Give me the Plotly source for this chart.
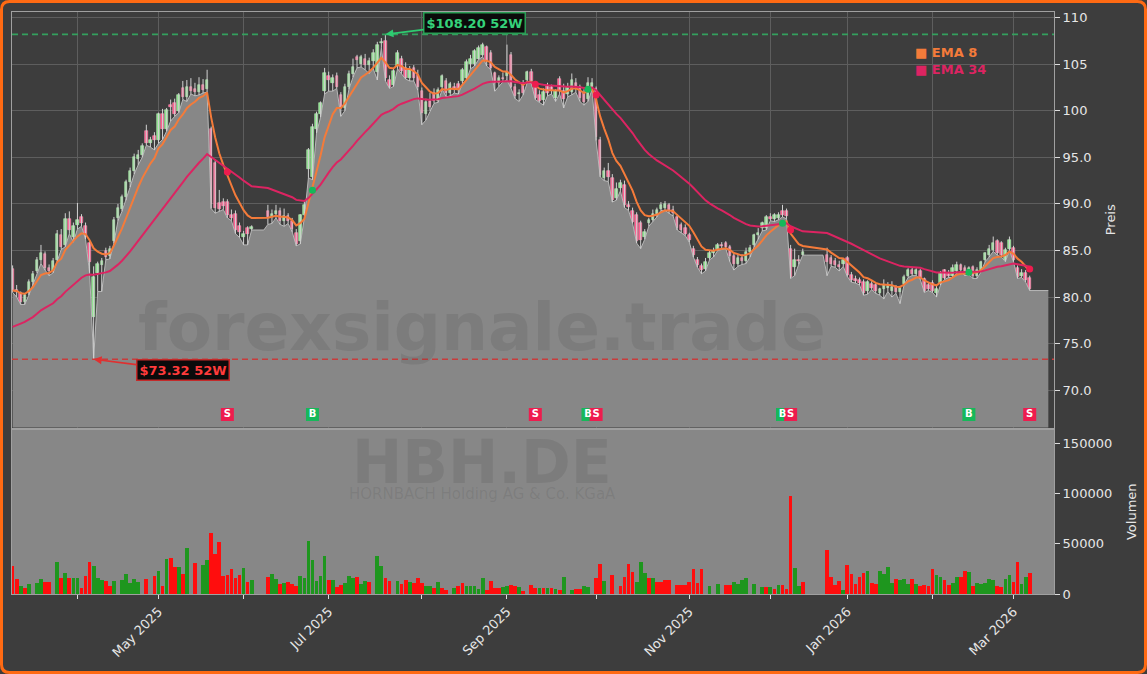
import pandas as pd
import numpy as np
import plotly.graph_objects as go
from plotly.subplots import make_subplots

# ---------------- data ----------------
START, END = "2025-03-10", "2026-03-06"
HOLIDAYS = ["2025-04-18", "2025-04-21", "2025-05-01", "2025-12-24",
            "2025-12-25", "2025-12-26", "2025-12-31", "2026-01-01"]
N_ = None

open_ = [83.0, 80.8, 80.4, 79.5, 80.4, 81.6, 82.8, 84.0, 84.6, 83.1,
         82.8, 84.0, 86.7, 85.6, 88.4, 86.4, 87.7, 88.6, 87.6, 85.8,
         77.9, 82.6, 83.4, 84.9, 84.4, 86.0, 88.5, 89.5, 90.7, 92.3,
         93.5, 94.8, 95.3, 97.8, 96.5, 97.3, 96.9, 99.6, 98.0, 100.6,
         100.8, 100.0, 102.4, 101.5, 102.6, 102.3, 102.0, 102.8, 102.3, 98.0,
         94.4, 90.1, 90.2, 90.2, 88.8, 88.9, 87.6, 86.5, 87.4, 87.3,
         N_, N_, N_, 89.2, 88.6, 88.9, 89.2, 88.2, 88.7, 88.2,
         86.9, 86.0, 88.8, 93.8, 92.9, 98.0, 99.6, 102.1, 103.7, 103.0,
         103.7, 101.7, 100.3, 102.6, 103.9, 105.8, 105.0, 105.6, 104.9, 105.3,
         104.2, 107.3, 107.5, 103.3, 102.8, 104.8, 105.6, 104.6, 103.5, 104.6,
         103.8, 102.1, 99.6, 101.0, 101.9, 101.1, 102.6, 103.2, 101.9, 102.6,
         102.9, 103.2, 103.5, 105.0, 105.0, 105.6, 106.0, 106.8, 106.2, 104.0,
         103.0, 103.5, 103.7, 106.0, 102.6, 101.8, 103.0, 103.3, 104.2, 102.8,
         101.7, 101.2, 102.7, 102.5, 101.4, 103.4, 102.1, 101.8, 102.0, 103.0,
         102.6, 101.9, 101.3, 102.6, 102.3, 96.9, 92.8, 93.5, 92.8, 90.6,
         91.7, 92.0, 89.9, 89.2, 88.8, 87.9, 86.5, 87.9, 88.3, 88.9,
         89.5, 89.6, 89.9, 89.3, 88.6, 87.7, 87.4, 86.7, 85.2, 84.0,
         83.3, 83.0, 84.2, 84.7, 85.2, 85.6, 85.8, 85.4, 84.4, 83.6,
         84.2, 83.9, 84.8, 85.6, 86.7, 87.4, 87.4, 88.6, 88.4, 88.5,
         89.2, 89.2, 85.2, 83.2, 84.0, 84.5, N_, N_, N_, N_,
         N_, 84.5, 84.2, 83.9, 83.4, 83.5, 84.2, 82.4, 81.9, 81.8,
         81.6, 80.6, 81.4, 81.3, 80.4, 80.9, 81.0, 80.6, 81.1, 80.5,
         81.4, 82.3, 82.9, 82.5, 82.8, 81.9, 81.3, 81.5, 80.4, 81.5,
         82.9, 82.6, 82.3, 82.8, 83.4, 83.1, 82.6, 83.2, 82.3, 82.9,
         84.0, 84.5, 85.1, 86.0, 85.8, 84.0, 85.2, 85.3, 83.1, 82.3,
         82.6, 82.0]

high = [83.4, 81.3, 80.6, 80.4, 81.9, 82.8, 84.3, 85.6, 84.9, 83.5,
        84.2, 87.2, 87.3, 89.0, 89.2, 88.0, 90.1, 88.9, 88.0, 86.0,
        83.3, 83.8, 84.2, 85.3, 85.5, 88.6, 90.0, 91.0, 92.6, 93.9,
        95.4, 95.8, 96.5, 98.5, 97.2, 97.7, 99.8, 100.2, 100.3, 101.2,
        101.3, 101.9, 103.2, 103.3, 103.5, 103.0, 103.6, 103.4, 104.4, 98.3,
        94.8, 91.5, 90.6, 90.5, 89.4, 89.3, 88.0, 87.1, 87.6, 87.7,
        N_, N_, N_, 89.9, 89.4, 89.9, 89.6, 89.5, 89.0, 88.5,
        87.3, 88.9, 90.3, 96.0, 98.6, 99.9, 101.0, 104.6, 104.2, 103.9,
        104.1, 102.0, 102.9, 104.3, 105.6, 106.0, 106.0, 106.1, 105.7, 106.6,
        107.4, 107.8, 108.2, 103.8, 104.6, 106.5, 105.9, 105.2, 104.8, 104.9,
        104.4, 102.5, 101.3, 101.9, 102.4, 102.5, 103.9, 103.5, 103.1, 103.0,
        103.2, 104.6, 105.5, 106.0, 106.6, 107.0, 107.3, 107.0, 106.5, 104.2,
        103.8, 104.1, 107.1, 106.3, 102.9, 102.3, 103.3, 104.3, 104.5, 103.2,
        102.2, 102.4, 103.0, 102.8, 102.3, 103.7, 102.9, 103.0, 104.0, 103.5,
        102.8, 102.3, 103.6, 103.5, 102.6, 97.2, 93.9, 94.4, 93.2, 92.3,
        92.6, 92.5, 90.3, 89.6, 89.1, 88.2, 87.3, 88.5, 89.4, 89.6,
        90.2, 90.3, 90.1, 89.8, 88.9, 88.0, 87.8, 86.9, 85.5, 84.3,
        83.6, 84.2, 85.0, 85.3, 85.8, 85.9, 86.0, 85.6, 84.8, 84.6,
        84.6, 85.3, 85.6, 86.8, 87.4, 88.1, 88.8, 89.0, 89.0, 89.1,
        89.9, 89.5, 85.6, 85.2, 84.5, 85.2, N_, N_, N_, N_,
        N_, 85.3, 84.5, 84.2, 83.9, 84.1, 84.4, 82.7, 82.3, 82.1,
        81.9, 81.8, 81.7, 81.5, 81.0, 81.9, 81.6, 81.7, 81.3, 81.2,
        82.4, 83.1, 83.2, 83.1, 83.0, 82.1, 81.6, 81.8, 81.2, 82.8,
        83.0, 82.9, 83.5, 83.8, 83.6, 83.4, 83.3, 83.4, 83.2, 83.9,
        84.8, 85.6, 86.5, 86.2, 86.0, 85.3, 86.5, 85.5, 83.4, 83.0,
        82.9, 82.3]

low = [80.5, 80.0, 79.2, 79.2, 80.2, 81.3, 82.6, 83.6, 82.9, 82.3,
       82.6, 83.8, 85.1, 85.4, 86.8, 85.9, 87.3, 87.6, 86.2, 82.6,
       73.32, 80.6, 80.6, 84.0, 84.1, 85.8, 88.2, 89.2, 90.4, 91.8,
       93.2, 94.2, 95.0, 96.3, 96.1, 95.8, 96.5, 96.9, 97.8, 98.9,
       99.4, 99.8, 101.2, 101.0, 101.8, 101.6, 101.7, 101.9, 102.0, 89.5,
       89.0, 89.2, 89.4, 88.5, 88.2, 86.8, 86.4, 85.6, 85.6, 87.2,
       N_, N_, N_, 87.8, 87.9, 88.5, 87.8, 87.6, 87.9, 87.0,
       85.5, 85.7, 88.5, 92.8, 92.6, 97.6, 99.3, 101.8, 102.1, 102.1,
       102.4, 99.4, 100.0, 102.3, 103.6, 104.6, 104.7, 104.4, 104.0, 104.5,
       103.3, 106.8, 103.2, 102.4, 102.6, 104.5, 104.0, 103.4, 103.2, 103.2,
       102.2, 98.5, 99.0, 100.0, 100.8, 100.9, 102.3, 101.5, 101.6, 101.9,
       101.8, 102.9, 103.3, 104.5, 104.8, 105.5, 105.8, 104.8, 104.4, 102.1,
       102.6, 103.1, 103.3, 102.4, 101.3, 101.0, 101.7, 103.0, 102.9, 101.2,
       100.9, 100.6, 101.6, 101.8, 101.0, 101.8, 100.3, 101.5, 101.7, 102.0,
       101.0, 100.6, 101.0, 102.3, 96.8, 92.9, 92.5, 92.4, 90.2, 90.4,
       91.4, 89.6, 89.3, 87.9, 85.8, 85.2, 86.2, 87.6, 88.1, 88.6,
       89.3, 89.3, 89.0, 88.7, 87.2, 86.9, 86.6, 85.9, 84.3, 83.2,
       82.5, 82.8, 84.0, 84.3, 85.0, 85.1, 85.2, 83.8, 82.9, 83.3,
       83.5, 83.6, 84.3, 85.4, 86.2, 87.1, 87.2, 88.2, 88.1, 88.3,
       88.6, 88.4, 82.0, 82.3, 83.5, 84.5, N_, N_, N_, N_,
       N_, 82.3, 83.3, 83.2, 82.8, 83.3, 82.2, 81.6, 81.5, 81.3,
       80.2, 80.3, 80.8, 80.4, 80.2, 79.8, 80.6, 80.0, 80.4, 79.3,
       81.3, 82.1, 82.3, 82.3, 81.9, 80.5, 80.7, 80.5, 80.0, 81.3,
       81.9, 82.1, 82.1, 82.6, 82.7, 82.3, 82.4, 82.0, 82.0, 82.7,
       83.8, 84.3, 84.9, 84.5, 84.3, 83.8, 85.0, 83.8, 82.0, 82.1,
       81.6, 80.7]

close = [80.8, 80.5, 79.5, 80.2, 81.6, 82.5, 84.0, 84.7, 83.1, 82.8,
         83.9, 86.8, 85.4, 88.4, 87.2, 87.6, 88.3, 88.0, 86.5, 83.8,
         82.2, 83.6, 83.9, 84.3, 85.2, 88.3, 89.6, 90.7, 92.3, 93.5,
         95.0, 95.3, 96.2, 96.5, 96.9, 96.9, 99.7, 98.0, 100.1, 100.4,
         99.6, 101.7, 101.5, 102.6, 102.1, 102.0, 102.8, 102.2, 103.3, 90.0,
         89.6, 89.5, 89.8, 88.8, 88.5, 87.2, 87.0, 86.8, 86.8, 87.5,
         N_, N_, N_, 88.6, 88.9, 89.2, 88.2, 88.7, 88.2, 87.3,
         85.7, 88.8, 89.9, 95.8, 98.3, 99.6, 100.8, 104.0, 103.3, 103.5,
         102.6, 100.3, 102.6, 103.9, 104.7, 105.5, 105.8, 104.9, 105.3, 106.2,
         107.1, 107.4, 103.5, 102.6, 104.3, 106.2, 104.3, 103.5, 104.4, 103.5,
         102.6, 99.8, 100.9, 100.4, 101.1, 102.2, 103.7, 101.9, 102.9, 102.3,
         102.2, 104.4, 105.2, 105.6, 106.4, 106.7, 107.1, 105.3, 104.6, 103.0,
         103.5, 103.4, 104.2, 102.6, 101.6, 101.9, 101.9, 104.2, 103.2, 101.4,
         101.1, 102.0, 101.9, 102.2, 102.1, 102.1, 101.3, 102.6, 103.3, 102.6,
         101.4, 100.9, 103.0, 103.0, 97.2, 93.1, 93.5, 92.9, 90.4, 91.6,
         92.2, 89.9, 89.7, 88.1, 86.0, 86.1, 87.0, 88.3, 88.9, 89.3,
         89.9, 90.0, 89.3, 89.0, 87.4, 87.2, 86.8, 86.1, 84.5, 83.4,
         82.9, 83.8, 84.7, 84.9, 85.6, 85.5, 85.4, 84.4, 83.6, 84.2,
         83.9, 84.8, 85.3, 86.7, 86.9, 87.9, 88.6, 88.4, 88.8, 88.8,
         88.8, 88.7, 82.2, 84.0, 83.9, 84.8, N_, N_, N_, N_,
         N_, 83.8, 83.6, 83.4, 83.2, 84.0, 82.4, 81.8, 81.7, 81.5,
         80.4, 81.6, 81.0, 80.6, 80.9, 81.3, 81.2, 81.1, 80.5, 81.0,
         82.2, 82.9, 82.5, 82.9, 82.1, 80.7, 80.9, 80.6, 80.9, 82.6,
         82.1, 82.3, 83.1, 83.4, 82.9, 82.6, 83.1, 82.3, 82.9, 83.8,
         84.7, 85.2, 85.8, 84.7, 84.5, 85.1, 86.1, 84.0, 82.2, 82.6,
         81.8, 80.9]

volume = [27900, 15400, 8900, 6600, 10800, 0, 11500, 15800, 12200, 12800,
          0, 32500, 16400, 21700, 16400, 16400, 16400, 6600, 18700, 32500,
          28600, 16400, 14800, 13800, 8900, 13500, 0, 14800, 20700, 11500,
          15800, 12800, 0, 15800, 0, 18700, 23700, 8900, 35500, 36500,
          27600, 27600, 20700, 46300, 0, 31600, 0, 29600, 34500, 60800,
          40400, 52300, 18700, 19700, 25600, 16800, 19700, 26600, 12800, 14800,
          0, 0, 0, 17700, 20700, 15800, 10800, 11800, 12800, 10800,
          8900, 18700, 16800, 53200, 34500, 13800, 18700, 38500, 14800, 14800,
          7200, 9900, 11800, 18700, 16800, 17700, 10800, 13800, 12800, 0,
          38500, 28600, 16800, 13800, 0, 13800, 10500, 14800, 12800, 11800,
          16800, 11800, 8900, 8900, 6900, 12800, 6900, 4900, 0, 6900,
          8900, 11800, 8900, 8900, 8900, 5900, 16800, 4900, 13800, 6900,
          6900, 7900, 8900, 9900, 8900, 7900, 3900, 0, 9900, 6900,
          6900, 6900, 6900, 6900, 5900, 4900, 17800, 0, 4900, 5900,
          5900, 8900, 7900, 0, 16800, 30600, 13800, 0, 19700, 0,
          8900, 17700, 30600, 22700, 12800, 32500, 21700, 16800, 16800, 12800,
          12200, 14100, 14800, 0, 9500, 9900, 9900, 12800, 25600, 11800,
          25600, 0, 8200, 0, 10800, 0, 9900, 9500, 12800, 10800,
          14800, 16800, 0, 10800, 0, 7900, 7900, 7900, 5900, 9900,
          9500, 5300, 98000, 26000, 8200, 12200, 0, 0, 0, 0,
          0, 43800, 17100, 9200, 13200, 4300, 29000, 20000, 10200, 17400,
          21000, 23000, 11200, 10200, 23000, 20000, 27000, 11200, 15100, 14100,
          15100, 10200, 15100, 10200, 8200, 9200, 8200, 25000, 19000, 17100,
          14100, 9200, 11200, 17100, 17100, 23000, 22000, 8200, 11200, 10200,
          11200, 15100, 14100, 8200, 7200, 15100, 19000, 12200, 32000, 10200,
          17100, 21000]

volume_dir = ("rrgrg-ggrr" "-grgrggrrr" "gggrrg-ggg" "gg-r-rgrgr" "rgrg-r-ggr"
              "rrrrrrrgrg" "---rggrgrr" "rgggggggrg" "rrgggrggr-" "ggrr-grrgr"
              "rrggrgrr-g" "rrgggggrrr" "rggrrgr-rr" "grgrgrg-gr" "rgg-rrg-r-"
              "rrrrgggrgr" "rrr-rrrrrr" "r-g-g-rrgg" "gg-g-grgrg" "rrrggr----"
              "-rrrrgrrrr" "rgrrggggrg" "ggrgrrrrgg" "rrggrrgrgg" "gggrrggrrg"
              "gr")

EMA8_START, EMA34_START = 80.7, 76.8          # EMA values at the first bar
signal_idx = [53, 74, 129, 142, 144, 190, 192, 236, 251]
signal_type = ["S", "B", "S", "B", "S", "B", "S", "B", "S"]
LABELED_MONTHS = [1, 3, 5, 7, 9, 11]

# ---------------- derived ----------------
n = len(close)
assert all(len(a) == n for a in (open_, high, low, volume)) and len(volume_dir) == n
dates = pd.bdate_range(START, END)
dates = dates[~dates.isin(pd.to_datetime(HOLIDAYS))]
assert len(dates) == n, len(dates)
idx = np.arange(n)

o = pd.Series(open_, dtype=float).values
hh = pd.Series(high, dtype=float).values
ll = pd.Series(low, dtype=float).values
c = pd.Series(close, dtype=float).values

def ema(series, span, seed):
    a = 2.0 / (span + 1)
    out, prev = [], seed
    for i, v in enumerate(series):
        if np.isnan(v):
            out.append(np.nan)
            continue
        prev = seed if i == 0 else a * v + (1 - a) * prev
        out.append(prev)
    return np.array(out)
ema8 = ema(c, 8, EMA8_START)
ema34 = ema(c, 34, EMA34_START)

fill_low = pd.Series(ll).ffill().values
FILL_EXT = 4.6
x_fill = list(idx) + [n - 1 + FILL_EXT]
y_fill = list(fill_low) + [fill_low[-1]]

hi_i = int(np.nanargmax(hh)); hi_val = float(hh[hi_i])
lo_i = int(np.nanargmin(ll)); lo_val = float(ll[lo_i])

month = pd.Series(dates.month)
tick_pos = [i for i in range(1, n) if month[i] != month[i - 1]]
tick_txt = [dates[i].strftime("%b %Y") if dates[i].month in LABELED_MONTHS else "" for i in tick_pos]

valid = ~np.isnan(c)
vi = idx[valid]
wx, wy = [], []
for i in vi:
    wx += [i, i, None]
    wy += [ll[i], hh[i], None]
up = c[valid] >= o[valid]
body_base = np.minimum(o[valid], c[valid])
body_h = np.maximum(np.abs(c[valid] - o[valid]), 0.08)
body_col = np.where(up, "#8de28d", "#ff5a8c")
body_line = np.where(up, "#b9f2b9", "#ff9ab9")

# ---------------- figure ----------------
W, H = 1147, 674
ML, MR, MT, MB = 12, 93, 12, 80
PW, PH = W - ML - MR, H - MT - MB
def xp(px): return (px - ML) / PW
def yp(py): return (H - MB - py) / PH

BG = "#3d3d3d"
FONT = "DejaVu Sans"
TXT = "#e6e6e6"

fig = make_subplots(rows=2, cols=1, shared_xaxes=True)

fig.add_trace(go.Scatter(x=x_fill, y=y_fill, mode="lines", fill="tozeroy",
                         fillcolor="#878787", line=dict(color="#b8b8b8", width=1),
                         hoverinfo="skip", showlegend=False), row=1, col=1)
fig.add_trace(go.Scatter(x=wx, y=wy, mode="lines", line=dict(color="#d2d2d2", width=1),
                         showlegend=False), row=1, col=1)
fig.add_trace(go.Bar(x=vi, y=body_h, base=body_base, width=0.62,
                     marker=dict(color=body_col, line=dict(color=body_line, width=0.6)),
                     showlegend=False), row=1, col=1)

ev = ~np.isnan(ema8)
fig.add_trace(go.Scatter(x=idx[ev], y=ema8[ev], mode="lines",
                         line=dict(color="#f47b3a", width=2), showlegend=False), row=1, col=1)
fig.add_trace(go.Scatter(x=idx[ev], y=ema34[ev], mode="lines",
                         line=dict(color="#dc2462", width=2), showlegend=False), row=1, col=1)

S_COL, B_COL = "#ee1c4e", "#16b85a"
dot_y = [(ema8[i] + ema34[i]) / 2 for i in signal_idx]
dot_c = [S_COL if t == "S" else B_COL for t in signal_type]
fig.add_trace(go.Scatter(x=signal_idx, y=dot_y, mode="markers",
                         marker=dict(size=7, color=dot_c), showlegend=False), row=1, col=1)

MARK_Y = 67.4
order = [k for k in range(len(signal_idx)) if signal_type[k] == "B"] + \
        [k for k in range(len(signal_idx)) if signal_type[k] == "S"]
fig.add_trace(go.Scatter(x=[signal_idx[k] for k in order], y=[MARK_Y] * len(order),
                         mode="markers+text", text=[signal_type[k] for k in order],
                         textposition="middle center",
                         textfont=dict(color="white", size=10, family=FONT, weight="bold"),
                         marker=dict(symbol="square", size=13,
                                     color=[dot_c[k] for k in order]),
                         showlegend=False), row=1, col=1)

vcol = ["#1e961e" if d == "g" else "#ff0d0d" for d in volume_dir]
fig.add_trace(go.Bar(x=idx, y=volume, marker=dict(color=vcol, line=dict(width=0)),
                     width=0.92, showlegend=False), row=2, col=1)

XR = [-0.15, 257.0]
axis_common = dict(showline=True, mirror=True, linecolor="#a0a0a0", linewidth=1,
                   tickfont=dict(family=FONT, size=13, color=TXT), zeroline=False,
                   automargin=False)
fig.update_layout(
    width=W, height=H, margin=dict(l=ML, r=MR, t=MT, b=MB, autoexpand=False),
    paper_bgcolor=BG, plot_bgcolor=BG, font=dict(family=FONT, color=TXT),
    showlegend=False, bargap=0, hovermode=False, barmode="overlay",
    xaxis=dict(domain=[0, 1], range=XR, tickvals=tick_pos, ticktext=[""] * len(tick_pos),
               showgrid=True, gridcolor="#5e5e5e", gridwidth=1, ticks="",
               **axis_common),
    xaxis2=dict(domain=[0, 1], range=XR, tickvals=tick_pos, ticktext=tick_txt, tickangle=-45,
                showgrid=False, ticks="outside", ticklen=4, tickcolor="#dddddd", **axis_common),
    yaxis=dict(domain=[yp(427.5), 1], range=[66.0, 110.6], side="right",
               tickvals=[70, 75, 80, 85, 90, 95, 100, 105, 110],
               ticktext=["70.0", "75.0", "80.0", "85.0", "90.0", "95.0", "100", "105", "110"],
               showgrid=True, gridcolor="#5e5e5e", gridwidth=1, ticks="outside", ticklen=5,
               tickcolor="#dddddd",
               title=dict(text="Preis", font=dict(family=FONT, size=13, color=TXT)),
               **axis_common),
    yaxis2=dict(domain=[0, yp(429.5)], range=[0, 163700], side="right",
                tickvals=[0, 50000, 100000, 150000], ticktext=["0", "50000", "100000", "150000"],
                showgrid=False, ticks="outside", ticklen=5, tickcolor="#dddddd",
                title=dict(text="Volumen", font=dict(family=FONT, size=13, color=TXT)),
                **axis_common),
)

shapes = [
    dict(type="rect", xref="x2 domain", yref="y2 domain", x0=0, x1=1, y0=0, y1=1,
         fillcolor="#878787", line=dict(width=0), layer="below"),
    dict(type="line", xref="x domain", yref="y", x0=0, x1=1, y0=hi_val, y1=hi_val,
         line=dict(color="#34a05e", width=1.6, dash="6px,4px")),
    dict(type="line", xref="x domain", yref="y", x0=0, x1=1, y0=lo_val, y1=lo_val,
         line=dict(color="#c83c3c", width=1.6, dash="6px,4px")),
]
x0p, x1p, y0p, y1p = xp(1.5), xp(W - 1.5), yp(H - 1.5), yp(1.5)
rx, ry = 8 / PW, 8 / PH
path = (f"M {x0p+rx},{y1p} L {x1p-rx},{y1p} Q {x1p},{y1p} {x1p},{y1p-ry} "
        f"L {x1p},{y0p+ry} Q {x1p},{y0p} {x1p-rx},{y0p} L {x0p+rx},{y0p} "
        f"Q {x0p},{y0p} {x0p},{y0p+ry} L {x0p},{y1p-ry} Q {x0p},{y1p} {x0p+rx},{y1p} Z")
shapes.append(dict(type="path", xref="paper", yref="paper", path=path,
                   line=dict(color="#ff6a13", width=3)))
fig.update_layout(shapes=shapes)

WM = "rgba(55,55,55,0.13)"
ann = [
    dict(xref="paper", yref="paper", x=xp(482), y=yp(327), xanchor="center", yanchor="middle",
         text="<b>forexsignale.trade</b>",
         showarrow=False, font=dict(family=FONT, size=66, color=WM)),
    dict(xref="paper", yref="paper", x=xp(482), y=yp(462), xanchor="center", yanchor="middle",
         text="<b>HBH.DE</b>",
         showarrow=False, font=dict(family=FONT, size=60, color=WM)),
    dict(xref="paper", yref="paper", x=xp(482), y=yp(494), xanchor="center", yanchor="middle",
         text="HORNBACH Holding AG &amp; Co. KGaA",
         showarrow=False, font=dict(family=FONT, size=15, color=WM)),
    dict(xref="paper", yref="paper", x=xp(913), y=yp(53), xanchor="left", yanchor="middle",
         text="<b>■ EMA 8</b>", showarrow=False, font=dict(family=FONT, size=13, color="#f47b3a")),
    dict(xref="paper", yref="paper", x=xp(913), y=yp(70), xanchor="left", yanchor="middle",
         text="<b>■ EMA 34</b>", showarrow=False, font=dict(family=FONT, size=13, color="#dc2462")),
    dict(xref="x", yref="y", x=hi_i, y=hi_val, text=f"<b>${hi_val:.2f} 52W</b>",
         showarrow=True, ax=89, ay=-11, arrowhead=2, arrowsize=1, arrowwidth=1.6,
         arrowcolor="#2ecc71", standoff=0,
         font=dict(family=FONT, size=13, color="#35d27a"), bgcolor="#0b0b0b",
         bordercolor="#2a9d55", borderwidth=1.5, borderpad=2),
    dict(xref="x", yref="y", x=lo_i, y=lo_val, text=f"<b>${lo_val:.2f} 52W</b>",
         showarrow=True, ax=89, ay=11, arrowhead=2, arrowsize=1, arrowwidth=1.6,
         arrowcolor="#e03030", standoff=0,
         font=dict(family=FONT, size=13, color="#ff3b3b"), bgcolor="#0b0b0b",
         bordercolor="#c42a2a", borderwidth=1.5, borderpad=2),
]
fig.update_layout(annotations=ann)

fig.write_html("out.html", config={"displayModeBar": False},
               post_script="document.body.style.margin='0px';")
